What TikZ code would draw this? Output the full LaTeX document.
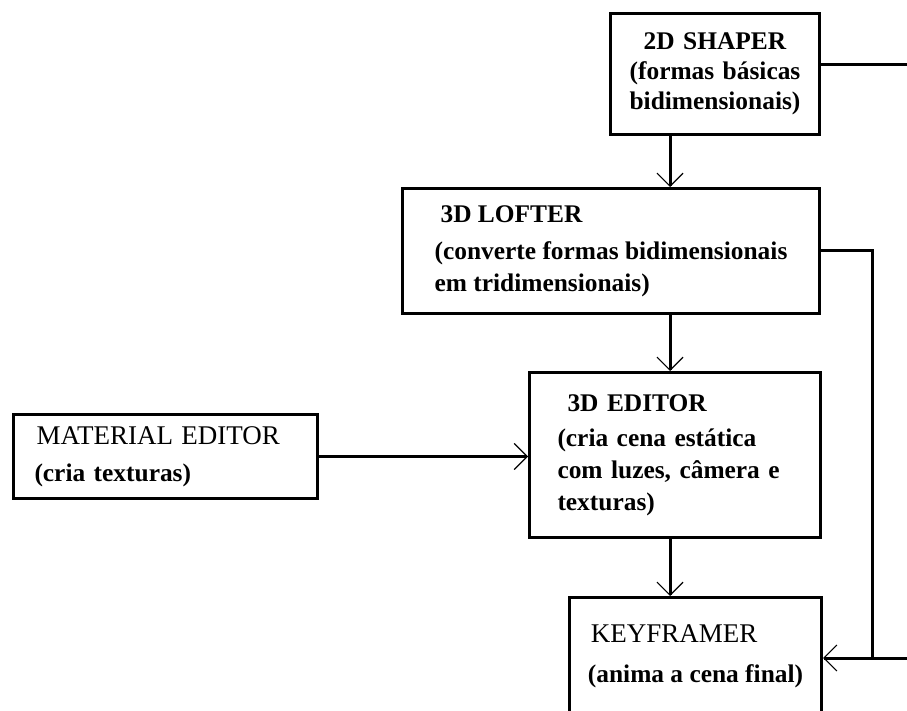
\documentclass[tikz,border=0pt]{standalone}
\usepackage{fontspec}
\setmainfont{Liberation Serif}
\usetikzlibrary{arrows.meta}
\newcommand\boxhead{\fontsize{27}{32}\selectfont\mdseries}

\begin{document}
\begin{tikzpicture}[x=1pt,y=-1pt,
  box/.style={draw,line width=3pt,anchor=north west,align=left,inner ysep=0pt,
    font={\fontsize{25.4}{32}\selectfont\bfseries}},
  wire/.style={line width=3pt},
  arr/.style={wire,-{Straight Barb[length=13pt,width=26pt,line width=1.2pt]}}]
  \useasboundingbox (0,0) rectangle (907,711);
  \clip (0,0) rectangle (907,711);
  \node[box,align=center,text width=189pt,inner xsep=10pt,minimum height=121pt] (shaper) at (609,12)
    {2D SHAPER\\[-2pt](formas básicas\\[-2pt]bidimensionais)};
  \node[box,minimum width=417pt,minimum height=125pt] (lofter) at (401,187)
    {\hspace*{6pt}3D LOFTER\\[5pt](converte formas bidimensionais\\em tridimensionais)};
  \node[box,text width=235pt,inner xsep=28pt,minimum height=165pt] (editor) at (528,371)
    {\hspace*{10pt}3D EDITOR\\[3pt](cria cena estática\\com luzes, câmera e\\texturas)};
  \node[box,text width=262pt,inner xsep=21pt,minimum height=84pt] (material) at (12,413)
    {{\boxhead\hspace*{2pt}MATERIAL EDITOR}\\[5pt](cria texturas)};
  \node[box,minimum width=252pt,minimum height=118pt] (keyframer) at (568,596)
    {{\boxhead\hspace*{3pt}KEYFRAMER}\\[8pt](anima a cena final)};
  \coordinate (col) at (670,0);
  \coordinate (rimA) at (907,65);
  \coordinate (rimB) at (910,658);
  \coordinate (bus) at (872,658);
  \draw[wire] (shaper.east |- rimA) -- (rimA);
  \draw[arr] (shaper.south -| col) -- (lofter.north -| col);
  \draw[arr] (lofter.south -| col) -- (editor.north -| col);
  \draw[arr] (editor.south -| col) -- (keyframer.north -| col);
  \draw[arr] (material.east) -- (material.east -| editor.west);
  \draw[wire] (lofter.east) -| (bus);
  \draw[arr] (rimB) -- (rimB -| keyframer.east);
\end{tikzpicture}
\end{document}
